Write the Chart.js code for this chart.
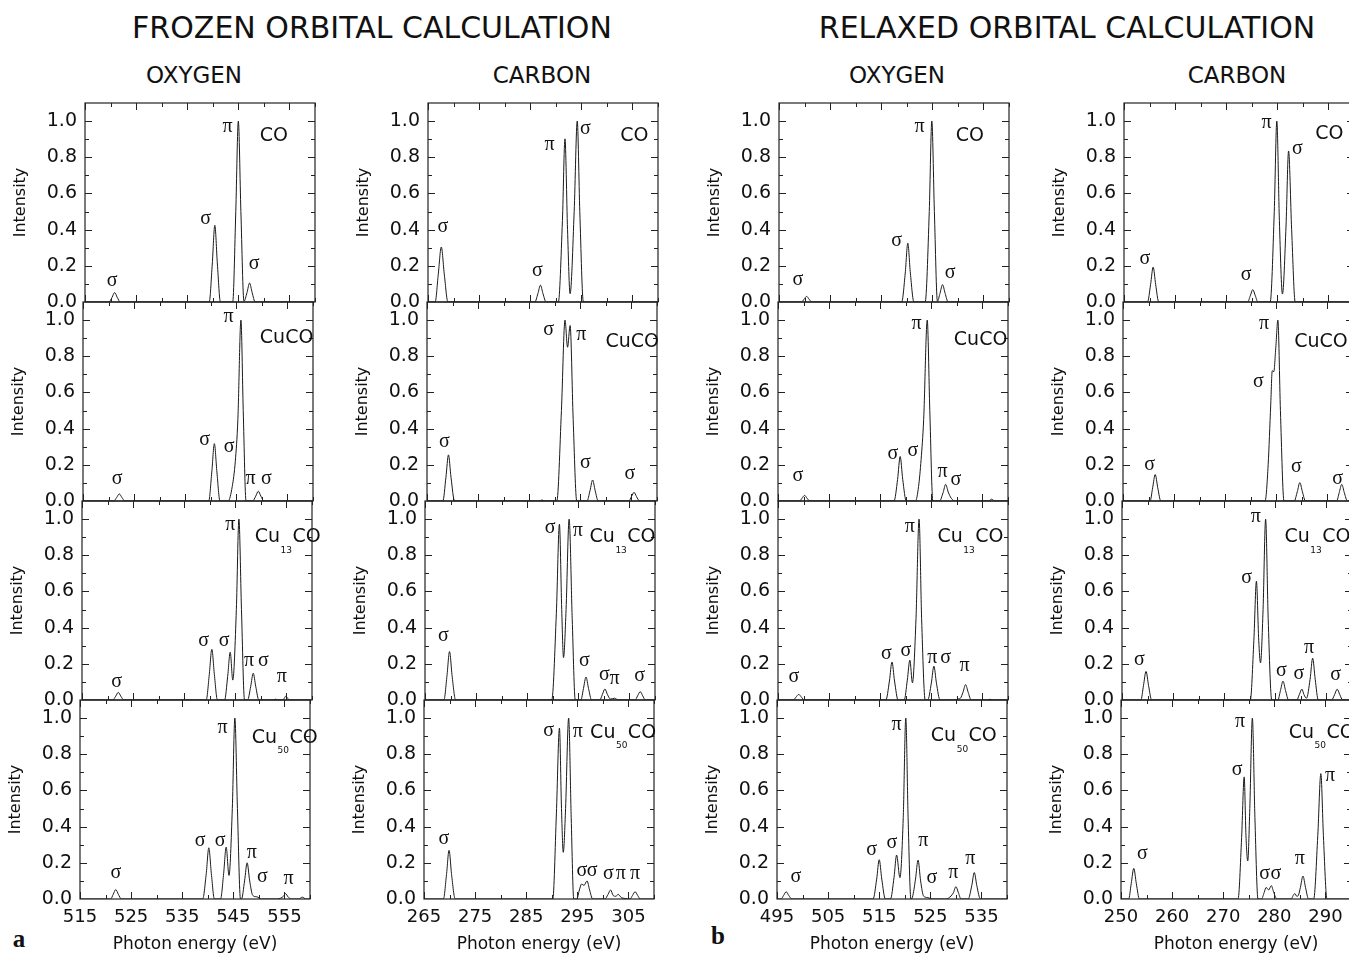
<!DOCTYPE html>
<html><head><meta charset="utf-8">
<script src="https://cdn.jsdelivr.net/npm/chart.js@4.4.1/dist/chart.umd.min.js"></script>
<style>
html,body{margin:0;padding:0;background:#fff;overflow:hidden;width:1349px;height:954px;position:relative;}
.t{position:absolute;font-family:"DejaVu Sans",sans-serif;color:#111;white-space:nowrap;transform:translate(-50%,-50%);line-height:1;}
.s{position:absolute;font-family:"Liberation Serif",serif;font-weight:bold;color:#111;line-height:1;transform:translate(-50%,-50%);}
canvas{position:absolute;}
</style></head><body>
<div class="t" style="left:372px;top:28px;font-size:30px">FROZEN ORBITAL CALCULATION</div>
<div class="t" style="left:1067px;top:28px;font-size:30px">RELAXED ORBITAL CALCULATION</div>
<div class="t" style="left:194px;top:75px;font-size:23px">OXYGEN</div>
<div class="t" style="left:542px;top:75px;font-size:23px">CARBON</div>
<div class="t" style="left:897px;top:75px;font-size:23px">OXYGEN</div>
<div class="t" style="left:1237px;top:75px;font-size:23px">CARBON</div>
<div class="s" style="left:19px;top:938px;font-size:25px">a</div>
<div class="s" style="left:718px;top:935px;font-size:25px">b</div>
<script>
// ---- x-axis ranges and tick labels (eV) ----
const oxygenFrozenTicks = [515, 525, 535, 545, 555];
const carbonFrozenTicks = [265, 275, 285, 295, 305];
const oxygenRelaxedTicks = [495, 505, 515, 525, 535];
const carbonRelaxedTicks = [250, 260, 270, 280, 290];
const xRanges = [[515, 560], [265, 310], [495, 540], [250, 295]];
const yTickValues = [0, 0.2, 0.4, 0.6, 0.8, 1.0];

// ---- spectra: [photon energy (eV), intensity] ----
const oxygenFrozenCO = [[515,0],[519.7,0],[520.3,0.026],[520.8,0.052],[521.3,0.026],[521.9,0],
 [539.3,0],[539.9,0.21],[540.4,0.424],[540.9,0.21],[541.5,0],
 [543.9,0],[544.5,0.5],[545.0,1.0],[545.5,0.5],[546.1,0.004],
 [546.7,0.052],[547.2,0.105],[547.7,0.052],[548.3,0],[560,0]];
const oxygenFrozenCuCO = [[515,0],[521.0,0],[521.6,0.02],[522.1,0.039],[522.6,0.02],[523.2,0],
 [539.6,0],[540.2,0.16],[540.7,0.317],[541.2,0.16],[541.8,0],
 [543.4,0],[544.2,0.08],[544.8,0.22],[545.3,0.45],[545.9,1.0],[546.35,0.5],[546.9,0],
 [548.2,0],[548.8,0.027],[549.3,0.054],[549.8,0.027],[550.4,0],[560,0]];
const oxygenFrozenCu13CO = [[515,0],[521.0,0],[521.6,0.021],[522.1,0.042],[522.6,0.021],[523.2,0],
 [539.3,0],[539.9,0.14],[540.4,0.28],[540.9,0.14],[541.5,0],
 [542.9,0],[543.5,0.13],[544.0,0.264],[544.5,0.11],[545.2,0.5],[545.7,1.0],[546.2,0.5],[546.8,0],
 [547.4,0],[548.0,0.074],[548.5,0.148],[549.0,0.074],[549.6,0],
 [552.5,0],[552.9,0.005],[553.3,0],
 [554.3,0],[554.6,0.011],[554.9,0.022],[555.2,0.011],[555.6,0],[560,0]];
const oxygenFrozenCu50CO = [[515,0],[521.0,0],[521.5,0.026],[522.0,0.052],[522.5,0.026],[523.1,0],
 [539.0,0],[539.7,0.14],[540.2,0.283],[540.7,0.14],[541.3,0],
 [542.5,0],[543.1,0.14],[543.6,0.287],[544.15,0.13],[544.8,0.5],[545.3,1.0],[545.8,0.5],[546.4,0],
 [546.6,0],[547.2,0.1],[547.7,0.2],[548.2,0.1],[548.8,0.02],[549.6,0.012],[550.5,0],
 [553.5,0],[554.3,0.005],[554.8,0.015],[555.2,0.03],[555.7,0.012],[556.3,0],
 [557.8,0],[558.5,0.01],[559.2,0],[560,0]];

const carbonFrozenCO = [[265,0],[266.4,0],[267.0,0.15],[267.6,0.304],[268.2,0.15],[268.9,0],
 [285.9,0],[286.5,0.046],[287.0,0.093],[287.5,0.046],[288.1,0],
 [290.5,0],[291.3,0.45],[291.8,0.902],[292.3,0.4],[292.8,0.046],[293.6,0.5],[294.2,1.0],[294.7,0.5],[295.4,0],[310,0]];
const carbonFrozenCuCO = [[265,0],[268.1,0],[268.7,0.13],[269.2,0.255],[269.7,0.13],[270.4,0],
 [287.1,0],[287.5,0.006],[287.9,0],
 [290.4,0],[291.3,0.5],[292.0,1.0],[292.5,0.85],[293.0,0.97],[293.6,0.45],[294.3,0],
 [296.3,0],[296.9,0.058],[297.4,0.116],[297.9,0.058],[298.5,0],
 [304.5,0],[305.0,0.024],[305.5,0.048],[306.0,0.024],[306.6,0],[310,0]];
const carbonFrozenCu13CO = [[265,0],[268.7,0],[269.3,0.134],[269.8,0.268],[270.3,0.134],[271.0,0],
 [289.8,0],[290.7,0.48],[291.3,0.972],[291.75,0.5],[292.1,0.234],[292.6,0.5],[293.2,1.0],[293.8,0.45],[294.4,0],
 [295.5,0],[296.0,0.063],[296.5,0.127],[297.0,0.063],[297.6,0],
 [299.2,0],[299.7,0.03],[300.2,0.061],[300.7,0.03],[301.3,0.005],[302.1,0.01],[302.8,0],
 [306.1,0],[306.6,0.023],[307.1,0.046],[307.6,0.023],[308.1,0],[310,0]];
const carbonFrozenCu50CO = [[265,0],[268.8,0],[269.4,0.134],[269.9,0.269],[270.4,0.134],[271.1,0],
 [290.2,0],[290.9,0.47],[291.5,0.945],[291.9,0.5],[292.25,0.258],[292.7,0.5],[293.3,1.0],[293.8,0.45],[294.3,0],
 [294.9,0],[295.4,0.05],[295.85,0.083],[296.3,0.075],[296.9,0.1],[297.4,0.05],[298.0,0],
 [300.4,0],[301.0,0.025],[301.5,0.05],[302.0,0.02],[302.5,0.015],[303.0,0.025],[303.6,0.008],[304.3,0.003],
 [305.3,0],[305.8,0.02],[306.3,0.04],[306.8,0.02],[307.3,0],[310,0]];

const oxygenRelaxedCO = [[495,0],[499.4,0],[499.9,0.015],[500.4,0.031],[500.9,0.015],[501.4,0],
 [519.0,0],[519.7,0.16],[520.2,0.325],[520.7,0.16],[521.4,0],
 [523.6,0],[524.4,0.5],[524.9,1.0],[525.4,0.5],[526.0,0.004],
 [526.5,0.048],[527.0,0.096],[527.5,0.048],[528.1,0],[540,0]];
const oxygenRelaxedCuCO = [[495,0],[499.2,0],[499.7,0.015],[500.2,0.031],[500.7,0.015],[501.2,0],
 [517.7,0],[518.4,0.12],[518.9,0.246],[519.4,0.12],[520.1,0],
 [521.9,0],[522.5,0.08],[523.0,0.23],[523.5,0.45],[524.2,1.0],[524.7,0.5],[525.3,0],
 [526.6,0],[527.3,0.046],[527.8,0.092],[528.3,0.05],[528.9,0.015],[529.7,0],
 [536.2,0],[536.8,0.01],[537.4,0],[540,0]];
const oxygenRelaxedCu13CO = [[495,0],[498.0,0],[498.5,0.015],[499.05,0.031],[499.6,0.015],[500.1,0],
 [516.1,0],[516.8,0.105],[517.3,0.21],[517.8,0.105],[518.5,0],
 [519.7,0],[520.3,0.11],[520.8,0.22],[521.3,0.095],[522.0,0.45],[522.6,1.0],[523.1,0.45],[523.8,0],
 [524.3,0],[525.0,0.093],[525.5,0.187],[526.0,0.093],[526.7,0],
 [529.6,0],[530.3,0.006],[530.7,0.01],[531.2,0.043],[531.7,0.085],[532.2,0.043],[532.8,0],
 [536.0,0],[536.5,0.004],[537.0,0],[540,0]];
const oxygenRelaxedCu50CO = [[495,0],[495.8,0],[496.3,0.02],[496.8,0.04],[497.3,0.02],[497.9,0],
 [513.8,0],[514.5,0.11],[515.0,0.217],[515.5,0.11],[516.2,0],
 [517.2,0],[517.9,0.12],[518.4,0.243],[519.05,0.118],[519.7,0.45],[520.2,1.0],[520.65,0.45],[521.2,0],
 [521.5,0.01],[522.1,0.11],[522.6,0.215],[523.1,0.1],[523.7,0.015],[524.5,0.008],[525.3,0],
 [527.8,0],[528.6,0.006],[529.5,0.034],[530.0,0.068],[530.5,0.034],[531.0,0],
 [532.4,0],[533.1,0.073],[533.6,0.146],[534.1,0.073],[534.8,0],[540,0]];

const carbonRelaxedCO = [[250,0],[254.6,0],[255.2,0.096],[255.7,0.193],[256.2,0.096],[256.8,0],
 [274.2,0],[274.7,0.034],[275.2,0.068],[275.7,0.034],[276.2,0],
 [278.6,0],[279.4,0.5],[279.9,1.0],[280.4,0.45],[281.0,0.044],[281.7,0.42],[282.2,0.835],[282.8,0.4],[283.5,0],[295,0]];
const carbonRelaxedCuCO = [[250,0],[255.3,0],[255.8,0.073],[256.3,0.146],[256.8,0.073],[257.4,0],
 [277.8,0],[278.4,0.2],[278.9,0.53],[279.2,0.72],[279.5,0.715],[279.9,0.85],[280.3,1.0],[280.8,0.5],[281.5,0],
 [283.5,0],[284.1,0.051],[284.6,0.102],[285.1,0.051],[285.7,0],
 [291.8,0],[292.3,0.046],[292.8,0.092],[293.3,0.046],[293.9,0],[295,0]];
const carbonRelaxedCu13CO = [[250,0],[253.7,0],[254.2,0.079],[254.7,0.158],[255.2,0.079],[255.8,0],
 [275.1,0],[275.8,0.33],[276.3,0.657],[276.75,0.33],[277.1,0.205],[277.6,0.5],[278.1,1.0],[278.6,0.45],[279.3,0],
 [280.5,0],[281.0,0.052],[281.5,0.104],[282.0,0.052],[282.6,0],
 [284.2,0],[284.7,0.03],[285.2,0.06],[285.6,0.03],[286.1,0.01],[286.8,0.115],[287.3,0.231],[287.8,0.115],[288.4,0],
 [291.0,0],[291.6,0.03],[292.1,0.06],[292.6,0.03],[293.2,0],[295,0]];
const carbonRelaxedCu50CO = [[250,0],[251.5,0],[252.0,0.085],[252.5,0.169],[253.0,0.085],[253.6,0],
 [272.9,0],[273.6,0.34],[274.1,0.675],[274.45,0.35],[274.8,0.21],[275.2,0.5],[275.7,1.0],[276.2,0.45],[276.8,0],
 [277.5,0],[278.0,0.035],[278.4,0.064],[278.9,0.05],[279.4,0.074],[279.9,0.035],[280.5,0],
 [283.3,0],[283.7,0.02],[284.0,0.03],[284.4,0.015],[284.7,0.02],[285.1,0.064],[285.6,0.127],[286.1,0.064],[286.7,0],
 [287.7,0],[288.5,0.35],[289.1,0.693],[289.6,0.35],[290.3,0],[295,0]];

// ---- molecule labels ----
const molCO = [['CO', 0]];
const molCuCO = [['CuCO', 0]];
const molCu13CO = [['Cu', 0], ['13', 1], ['CO', 0]];
const molCu50CO = [['Cu', 0], ['50', 1], ['CO', 0]];

// ---- panel layout & annotations ----
const colTicks = [oxygenFrozenTicks, carbonFrozenTicks, oxygenRelaxedTicks, carbonRelaxedTicks];
const panels = [
 {c:0,r:0,d:oxygenFrozenCO,m:molCO,mp:[549.2,0.92],a:[['σ',520.3,0.12],['σ',538.6,0.46],['π',542.9,0.97],['σ',548.1,0.21]]},
 {c:0,r:1,d:oxygenFrozenCuCO,m:molCuCO,mp:[549.6,0.9],a:[['σ',521.7,0.124],['σ',538.8,0.336],['σ',543.6,0.30],['π',543.5,1.02],['π',547.8,0.124],['σ',550.9,0.124]]},
 {c:0,r:2,d:oxygenFrozenCu13CO,m:molCu13CO,mp:[548.8,0.9],a:[['σ',521.8,0.10],['σ',538.8,0.33],['σ',542.8,0.33],['π',544.0,0.97],['π',547.7,0.216],['σ',550.5,0.216],['π',554.1,0.13]]},
 {c:0,r:3,d:oxygenFrozenCu50CO,m:molCu50CO,mp:[548.6,0.89],a:[['σ',522,0.147],['σ',538.5,0.32],['σ',542.4,0.32],['π',542.9,0.946],['π',548.6,0.255],['σ',550.7,0.125],['π',555.8,0.11]]},
 {c:1,r:0,d:carbonFrozenCO,m:molCO,mp:[302.6,0.916],a:[['σ',267.9,0.415],['σ',286.4,0.17],['π',288.8,0.87],['σ',295.8,0.96]]},
 {c:1,r:1,d:carbonFrozenCuCO,m:molCuCO,mp:[299.9,0.88],a:[['σ',268.4,0.328],['σ',288.8,0.946],['π',295.2,0.92],['σ',296.0,0.21],['σ',304.7,0.153]]},
 {c:1,r:2,d:carbonFrozenCu13CO,m:molCu13CO,mp:[297.2,0.9],a:[['σ',268.6,0.354],['σ',289.5,0.954],['π',294.9,0.935],['σ',296.2,0.216],['σ',300.1,0.138],['π',302.1,0.115],['σ',307.0,0.133]]},
 {c:1,r:3,d:carbonFrozenCu50CO,m:molCu50CO,mp:[297.5,0.92],a:[['σ',268.9,0.332],['σ',289.4,0.928],['π',295.1,0.922],['σ',295.9,0.157],['σ',297.9,0.157],['σ',301.1,0.14],['π',303.5,0.14],['π',306.3,0.14]]},
 {c:2,r:0,d:oxygenRelaxedCO,m:molCO,mp:[529.6,0.92],a:[['σ',498.7,0.123],['σ',518.0,0.34],['π',522.5,0.97],['σ',528.5,0.164]]},
 {c:2,r:1,d:oxygenRelaxedCuCO,m:molCuCO,mp:[529.4,0.89],a:[['σ',498.9,0.138],['σ',517.5,0.26],['σ',521.4,0.28],['π',522.1,0.98],['π',527.2,0.16],['σ',529.8,0.12]]},
 {c:2,r:2,d:oxygenRelaxedCu13CO,m:molCu13CO,mp:[526.2,0.9],a:[['σ',498.1,0.127],['σ',516.2,0.257],['σ',520.0,0.27],['π',520.8,0.957],['π',525.2,0.235],['σ',527.8,0.235],['π',531.5,0.188]]},
 {c:2,r:3,d:oxygenRelaxedCu50CO,m:molCu50CO,mp:[525.1,0.9],a:[['σ',498.7,0.124],['σ',513.5,0.27],['σ',517.5,0.31],['π',518.4,0.963],['π',523.6,0.32],['σ',525.3,0.115],['π',529.5,0.146],['π',532.8,0.225]]},
 {c:3,r:0,d:carbonRelaxedCO,m:molCO,mp:[287.4,0.93],a:[['σ',254.1,0.241],['σ',273.9,0.149],['π',277.9,0.99],['σ',283.9,0.846]]},
 {c:3,r:1,d:carbonRelaxedCuCO,m:molCuCO,mp:[283.5,0.88],a:[['σ',255.2,0.2],['π',277.6,0.98],['σ',276.5,0.66],['σ',283.9,0.19],['σ',292,0.124]]},
 {c:3,r:2,d:carbonRelaxedCu13CO,m:molCu13CO,mp:[281.8,0.9],a:[['σ',253.4,0.222],['π',276.2,1.015],['σ',274.4,0.676],['σ',281.2,0.162],['σ',284.6,0.147],['π',286.6,0.287],['σ',291.8,0.14]]},
 {c:3,r:3,d:carbonRelaxedCu50CO,m:molCu50CO,mp:[282.8,0.92],a:[['σ',254.2,0.248],['σ',272.7,0.715],['π',273.3,0.978],['σ',278.1,0.138],['σ',280.3,0.138],['π',285.0,0.224],['π',290.9,0.68]]}
];

const FONT = '"DejaVu Sans", sans-serif';
const GREEK = '"Liberation Serif", serif';
Chart.defaults.font.family = FONT;
Chart.defaults.color = '#111';

const colLeft = [85, 428, 779, 1124];
const colShift = [-1.6, -1.5, -0.7, -0.9];
const rowBottom = [302, 501, 700, 899];
const PW = 230, PH = 199, AX = 90, PADT = 14, PADR = 10, XH = 60;

const deco = {
  id: 'deco',
  afterDatasetsDraw(chart, args, o) {
    const {ctx, chartArea: a, scales: {x, y}} = chart;
    ctx.save();
    ctx.strokeStyle = '#222';
    ctx.lineWidth = 1.2;
    ctx.strokeRect(a.left, a.top, a.right - a.left, a.bottom - a.top);
    ctx.lineWidth = 1;
    ctx.beginPath();
    const x0 = o.ticks[0];
    for (let v = x.min; v <= x.max + 1e-6; v += 5) {
      const p = Math.round(x.getPixelForValue(v)) + 0.5;
      const L = Math.abs((v - x0) % 10) < 1e-6 ? 7 : 4;
      ctx.moveTo(p, a.bottom); ctx.lineTo(p, a.bottom - L);
      ctx.moveTo(p, a.top); ctx.lineTo(p, a.top + L);
    }
    for (let k = 1; k <= 10; k++) {
      const p = Math.round(y.getPixelForValue(k / 10)) + 0.5;
      const L = k % 2 === 0 ? 7 : 4;
      ctx.moveTo(a.left, p); ctx.lineTo(a.left + L, p);
      ctx.moveTo(a.right, p); ctx.lineTo(a.right - L, p);
    }
    ctx.stroke();
    ctx.fillStyle = '#111';
    ctx.textAlign = 'center';
    ctx.textBaseline = 'middle';
    ctx.font = '20px ' + GREEK;
    for (const [t, e, i] of o.ann) ctx.fillText(t, x.getPixelForValue(e), y.getPixelForValue(i));
    let px = x.getPixelForValue(o.mp[0]);
    const py = y.getPixelForValue(o.mp[1]);
    ctx.textAlign = 'left';
    for (const [t, sub] of o.mol) {
      ctx.font = (sub ? '9px ' : '19px ') + FONT;
      ctx.fillText(t, px, sub ? py + 13 : py);
      px += ctx.measureText(t).width + 0.5;
    }
    ctx.restore();
  }
};

for (const P of panels) {
  const left = Math.round(colLeft[P.c] + colShift[P.c] * P.r);
  const top = rowBottom[P.r] - PH;
  const bottomRow = P.r === 3;
  const cv = document.createElement('canvas');
  cv.width = AX + PW + PADR;
  cv.height = PADT + PH + (bottomRow ? XH : PADT);
  cv.style.left = (left - AX) + 'px';
  cv.style.top = (top - PADT) + 'px';
  document.body.appendChild(cv);
  const ticks = colTicks[P.c];
  new Chart(cv, {
    type: 'line',
    data: {datasets: [{
      data: P.d.map(([e, i]) => ({x: e, y: i})),
      borderColor: '#1a1a1a', borderWidth: 1, pointRadius: 0,
      cubicInterpolationMode: 'monotone', fill: false
    }]},
    options: {
      responsive: false, maintainAspectRatio: false, animation: false, devicePixelRatio: 1,
      layout: {padding: {left: 0, top: PADT, right: PADR, bottom: bottomRow ? 0 : PADT}},
      plugins: {legend: {display: false}, tooltip: {enabled: false},
        deco: {ann: P.a, mol: P.m, mp: P.mp, ticks: ticks}},
      scales: {
        x: {
          type: 'linear', min: xRanges[P.c][0], max: xRanges[P.c][1],
          display: bottomRow,
          grid: {display: false, drawTicks: false}, border: {display: false},
          afterBuildTicks: s => { s.ticks = ticks.map(v => ({value: v})); },
          ticks: {padding: 8, font: {size: 18}, color: '#111', callback: v => String(v), maxRotation: 0, autoSkip: false},
          title: {display: true, text: 'Photon energy (eV)', font: {size: 17}, color: '#111', padding: {top: 0, bottom: 4}},
          afterFit: s => { s.height = bottomRow ? XH : 0; s.paddingLeft = 0; s.paddingRight = 0; }
        },
        y: {
          type: 'linear', min: 0, max: 1.1,
          grid: {display: false, drawTicks: false}, border: {display: false},
          afterBuildTicks: s => { s.ticks = yTickValues.map(v => ({value: v})); },
          ticks: {padding: 8, font: {size: 19}, color: '#111', callback: v => v.toFixed(1)},
          title: {display: true, text: 'Intensity', font: {size: 16}, color: '#111', padding: {top: 16, bottom: 0}},
          afterFit: s => { s.width = AX; s.paddingTop = 0; s.paddingBottom = 0; }
        }
      }
    },
    plugins: [deco]
  });
}
</script>
</body></html>
